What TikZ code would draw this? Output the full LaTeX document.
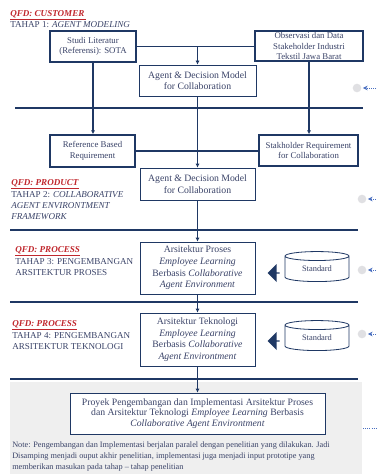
\documentclass[tikz,border=0pt]{standalone}
\usepackage{fontspec}
\setmainfont{Liberation Serif}
\usetikzlibrary{shapes.geometric,shapes.arrows,arrows.meta}

\definecolor{navy}{HTML}{1F3864}
\definecolor{ink}{HTML}{3A4368}
\definecolor{qfdred}{HTML}{C0272D}
\definecolor{panel}{HTML}{EFEFEF}
\definecolor{dotgrey}{HTML}{E0E0E3}
\definecolor{linkblue}{HTML}{4A6FC0}

\tikzset{
  srcbox/.style={draw=navy, line width=1.1pt, fill=white, text=ink, align=center,
    inner sep=0pt, font=\fontsize{6.6}{7.8}\selectfont},
  modelbox/.style={draw=navy, line width=0.6pt, fill=white, text=ink, align=center,
    inner sep=0pt, font=\fontsize{7.3}{8.7}\selectfont},
  rule/.style={navy, line width=1.6pt},
  link/.style={navy, line width=1.1pt},
  flow/.style={link, -{Latex[length=3pt,width=3.2pt]}},
  qfdlbl/.style={anchor=north west, inner sep=0pt, text=qfdred,
    font=\fontsize{6.8}{8}\selectfont\bfseries\itshape},
  stagelbl/.style={anchor=north west, align=left, inner sep=0pt, text=ink,
    font=\fontsize{6.8}{8.25}\selectfont},
  stddb/.style={cylinder, shape border rotate=90, aspect=0.3, draw=navy, line width=0.6pt,
    fill=white, text=ink, minimum width=48pt, minimum height=22.5pt, inner sep=0pt,
    font=\fontsize{6.3}{7.4}\selectfont},
  pusharrow/.style={single arrow, shape border rotate=180, fill=navy, draw=none,
    minimum width=13.5pt, minimum height=9pt, single arrow head extend=3pt, inner sep=0pt},
  marker/.style={circle, fill=dotgrey, minimum size=6.5pt, inner sep=0pt},
  feedback/.style={linkblue, densely dotted, line width=0.6pt,
    -{Stealth[length=3.5pt,width=3.5pt,sep=1pt]}}
}

\begin{document}
\begin{tikzpicture}[x=0.75pt,y=-0.75pt]
\useasboundingbox (0,0) rectangle (376,474);

% grey panel for the implementation part
\fill[panel] (10,382) rectangle (362,474);

% stage separators
\draw[rule] (15,108) -- (363,108);
\draw[rule] (10,230) -- (358,230);
\draw[rule] (10,302) -- (358,302);
\draw[rule] (10,379) -- (358,379);

% stage labels
\node[qfdlbl] (qfd1) at (10,10) {\underline{QFD: CUSTOMER\,}};
\node[stagelbl] (tahap1) at (10,21.5) {TAHAP 1: \textit{AGENT MODELING}};
\node[qfdlbl] (qfd2) at (11,179) {\underline{QFD: PRODUCT}};
\node[stagelbl] (tahap2) at (11,191) {TAHAP 2: \textit{COLLABORATIVE}\\\textit{AGENT ENVIRONTMENT}\\\textit{FRAMEWORK}};
\node[qfdlbl] (qfd3) at (15,246) {\underline{QFD: PROCESS}};
\node[stagelbl] (tahap3) at (15,258.5) {TAHAP 3: PENGEMBANGAN\\ARSITEKTUR PROSES};
\node[qfdlbl] (qfd4) at (12,320) {\underline{QFD: PROCESS}};
\node[stagelbl] (tahap4) at (12,332.5) {TAHAP 4: PENGEMBANGAN\\ARSITEKTUR TEKNOLOGI};

% boxes
\node[srcbox, minimum width=64.5pt, minimum height=23.25pt] (studi) at (93,46.5) {Studi Literatur\\(Referensi): SOTA};
\node[srcbox, minimum width=81pt, minimum height=22.5pt] (obsv) at (309,46) {Observasi dan Data\\Stakeholder Industri\\Tekstil Jawa Barat};
\node[modelbox, minimum width=87.75pt, minimum height=23.25pt] (model1) at (197.5,80.5) {Agent \& Decision Model\\for Collaboration};
\node[srcbox, minimum width=63.75pt, minimum height=24pt] (refreq) at (92.5,151) {Reference Based\\Requirement};
\node[srcbox, minimum width=74.25pt, minimum height=23.25pt] (stkreq) at (308.5,150.5) {Stakholder Requirement\\for Collaboration};
\node[modelbox, minimum width=86.25pt, minimum height=24pt] (model2) at (197.5,184) {Agent \& Decision Model\\for Collaboration};
\node[modelbox, minimum width=86.25pt, minimum height=39pt] (arsproses) at (197.5,268) {Arsitektur Proses\\\textit{Employee Learning}\\Berbasis \textit{Collaborative}\\\textit{Agent Environment}};
\node[modelbox, minimum width=86.25pt, minimum height=39.75pt] (arstek) at (197.5,339.5) {Arsitektur Teknologi\\\textit{Employee Learning}\\Berbasis \textit{Collaborative}\\\textit{Agent Environtment}};
\node[modelbox, font=\fontsize{7.3}{8}\selectfont, minimum width=191.25pt, minimum height=30.75pt] (proyek) at (197.5,413.5) {Proyek Pengembangan dan Implementasi Arsitektur Proses\\dan Arsitektur Teknologi \textit{Employee Learning} Berbasis\\\textit{Collaborative Agent Environtment}};

% standards pushed into the architectures
\node[stddb] (std1) at (317,269) {Standard};
\node[pusharrow] (push1) at (274,273) {};
\node[stddb] (std2) at (317,338) {Standard};
\node[pusharrow] (push2) at (274,341) {};

% connectors
\draw[link] (studi.east) -- (studi.east -| obsv.west);
\draw[flow] (model1.north |- studi.east) -- (model1.north);
\draw[flow] (studi.south) -- (studi.south |- refreq.north);
\draw[flow] (obsv.south) -- (obsv.south |- stkreq.north);
\draw[link] (refreq.east) -- (refreq.east -| stkreq.west);
\draw[flow] (model1.south) -- (model2.north);
\draw[flow] (model2.south) -- (arsproses.north);
\draw[flow] (arsproses.south) -- (arstek.north);
\draw[flow] (arstek.south) -- (proyek.north);

% feedback markers on the right
\node[marker] (fb1) at (357,88) {};
\node[marker] (fb2) at (362,199) {};
\node[marker] (fb3) at (362,270) {};
\node[marker] (fb4) at (362,334) {};
\coordinate (fb1in) at (376,88);
\coordinate (fb2in) at (376,199);
\coordinate (fb3in) at (376,270);
\coordinate (fb4in) at (376,334);
\draw[feedback] (fb1in) -- (fb1.east);
\draw[feedback] (fb2in) -- (fb2.east);
\draw[feedback] (fb3in) -- (fb3.east);
\draw[feedback] (fb4in) -- (fb4.east);
\coordinate (fbout) at (363,428);
\coordinate (fbedge) at (376,428);
\draw[linkblue, densely dotted, line width=0.6pt] (fbout) -- (fbedge);

% note
\node[stagelbl, font=\fontsize{6.2}{8.25}\selectfont] (note) at (12,441) {Note: Pengembangan dan Implementasi berjalan paralel dengan penelitian yang dilakukan. Jadi\\Disamping menjadi ouput akhir penelitian, implementasi juga menjadi input prototipe yang\\memberikan masukan pada tahap -- tahap penelitian};
\end{tikzpicture}
\end{document}
